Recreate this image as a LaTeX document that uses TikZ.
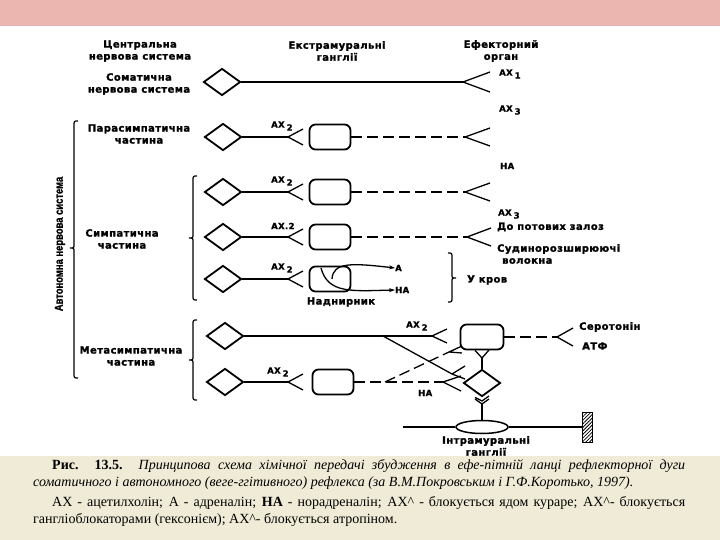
\documentclass[tikz,border=0pt]{standalone}
\usepackage{fontspec}
\usepackage{graphicx}
\setmainfont{Liberation Serif}
\newfontfamily\lab{DejaVu Sans Bold}[LetterSpace=4, FakeBold=1.5]
\newfontfamily\vlab{Liberation Sans Bold}[FakeBold=1.2]
\usetikzlibrary{shapes.geometric,patterns.meta,arrows.meta}
\definecolor{topband}{HTML}{EBB6B0}
\definecolor{bandline}{HTML}{DCB4B8}
\definecolor{capbg}{HTML}{EFEBD6}
\newcommand\AXs[1]{АХ\hspace{2pt}\raisebox{-3pt}{#1}}
\newcommand\fk[4]{\draw[conn] (#1) -- ++(#2,-#3) (#1) -- ++(#2,#4);}
\newcommand\brL[4]{\draw[line width=1.2pt] (#1+4,#2) .. controls (#1,#2) .. (#1,#2+5) -- (#1,#4-4) .. controls (#1,#4) .. (#1-4,#4) .. controls (#1,#4) .. (#1,#4+4) -- (#1,#3-5) .. controls (#1,#3) .. (#1+4,#3);}
\newcommand\brR[4]{\draw[line width=1.2pt] (#1-4,#2) .. controls (#1,#2) .. (#1,#2+5) -- (#1,#4-4) .. controls (#1,#4) .. (#1+4,#4) .. controls (#1,#4) .. (#1,#4+4) -- (#1,#3-5) .. controls (#1,#3) .. (#1-4,#3);}
\begin{document}
\begin{tikzpicture}[x=1pt,y=-1pt,
  conn/.style={line width=1.3pt},
  dconn/.style={line width=1.3pt, dash pattern=on 11pt off 5pt},
  dia/.style={draw, line width=1.8pt, shape=diamond, minimum width=37pt, minimum height=27pt, inner sep=0pt},
  gbox/.style={draw, line width=1.8pt, rounded corners=6pt, minimum width=41pt, minimum height=25pt, inner sep=0pt},
  lbl/.style={font=\lab\fontsize{10}{12}\selectfont, inner sep=0pt, align=center},
  sml/.style={font=\lab\fontsize{8.5}{10}\selectfont, inner sep=0pt, anchor=west},
  tip/.style={-{Stealth[length=6pt,width=4pt]}}
]
\useasboundingbox (0,0) rectangle (720,540);
\fill[white] (0,0) rectangle (720,540);
\fill[topband] (0,0) rectangle (720,25);
\draw[line width=0.8pt, bandline] (0,25.5) -- (720,25.5);
\fill[capbg] (0,456) rectangle (720,540);

% column headers and left labels
\node[lbl] (cns) at (140,51) {Центральна\\нервова система};
\node[lbl] (soma) at (139,84) {Соматична\\нервова система};
\node[lbl] (para) at (139,134) {Парасимпатична\\частина};
\node[lbl] (symp) at (122,239) {Симпатична\\частина};
\node[lbl] (meta) at (131,356) {Метасимпатична\\частина};
\node[lbl] (ext) at (337,51) {Екстрамуральні\\ганглії};
\node[lbl] (eff) at (501,51) {Ефекторний\\орган};
\node[rotate=90, inner sep=0pt, font=\vlab\fontsize{11.5}{11}\selectfont] (ans) at (60,244) {\scalebox{0.82}[1]{Автономна нервова система}};

% braces
\brL{74}{121}{378}{248}
\brL{193}{176}{300}{238}
\brL{193}{320}{400}{360}
\brR{452}{253}{302}{278}

% neurons
\node[dia] (d1) at (222,82) {};
\node[dia] (d2) at (223,137) {};
\node[dia] (d3) at (223,192) {};
\node[dia] (d4) at (223,237) {};
\node[dia] (d5) at (223,279) {};
\node[dia] (d6) at (225,336) {};
\node[dia] (d7) at (225,382) {};
\node[dia] (d8) at (482,383) {};
\node[gbox] (b2) at (330,137) {};
\node[gbox] (b3) at (330,192) {};
\node[gbox] (b4) at (330,237) {};
\node[gbox] (b5) at (330,279) {};
\node[gbox, minimum width=43pt] (b6) at (482,337) {};
\node[gbox] (b7) at (333,382) {};

% row 1
\coordinate (f1) at (463,82); \draw[conn] (d1) -- (f1); \fk{f1}{27}{10}{10}
\node[sml] (ax1) at (499,74) {\AXs{1}};
\node[sml] (ax3a) at (499,110) {\AXs{3}};

% row 2
\coordinate (f2) at (288,137); \draw[conn] (d2) -- (f2); \fk{f2}{15}{8}{8}
\node[sml] (l2) at (271,126) {\AXs{2}};
\coordinate (g2) at (465,137); \draw[dconn] (b2) -- (g2); \fk{g2}{25}{9}{9}
\node[sml] (na1) at (500,166) {НА};

% row 3
\coordinate (f3) at (288,192); \draw[conn] (d3) -- (f3); \fk{f3}{15}{8}{8}
\node[sml] (l3) at (271,181) {\AXs{2}};
\coordinate (g3) at (465,192); \draw[dconn] (b3) -- (g3); \fk{g3}{25}{9}{9}
\node[sml] (ax3b) at (498,214) {\AXs{3}};

% row 4
\coordinate (f4) at (288,237); \draw[conn] (d4) -- (f4); \fk{f4}{15}{8}{8}
\node[sml] (l4) at (271,226) {АХ.2};
\coordinate (g4) at (467,237); \draw[dconn] (b4) -- (g4); \fk{g4}{24}{9}{9}
\node[lbl, anchor=west] (pot) at (497,227) {До потових залоз};
\node[lbl, anchor=west, align=left] (sud) at (497,254) {Судинорозширюючі\\\hspace*{5pt}волокна};

% row 5
\coordinate (f5) at (288,279); \draw[conn] (d5) -- (f5); \fk{f5}{15}{8}{8}
\node[sml] (l5) at (271,268) {\AXs{2}};
\node[sml] (A) at (395,268) {А};
\node[sml] (na2) at (395,290) {НА};
\draw[conn, tip] (332,279) .. controls (333,262) and (352,263) .. (A.west);
\draw[conn, tip] (321,268) .. controls (328,294) and (352,291) .. (na2.west);
\node[lbl] (adr) at (341,302) {Наднирник};
\node[lbl, anchor=west] (blood) at (467,280) {У кров};

% row 6
\coordinate (f6) at (432,336); \draw[conn] (d6) -- (f6); \fk{f6}{15}{7}{7}
\node[sml] (l6) at (406,326) {\AXs{2}};
\coordinate (br6) at (383,336); \coordinate (f6b) at (452,374);
\draw[conn] (br6) -- (f6b); \fk{f6b}{13}{8}{5}
\coordinate (g6) at (557,337); \draw[dconn] (b6) -- (g6); \fk{g6}{16}{9}{9}
\node[lbl, anchor=west] (ser) at (579,327) {Серотонін};
\node[lbl, anchor=west] (atf) at (582,346) {АТФ};

% row 7
\coordinate (f7) at (288,382); \draw[conn] (d7) -- (f7); \fk{f7}{15}{8}{8}
\node[sml] (l7) at (267,372) {\AXs{2}};
\coordinate (g7) at (443,382); \draw[dconn] (b7) -- (g7); \fk{g7}{18}{6}{9}
\node[sml] (na3) at (418,393) {НА};
\coordinate (br7) at (385,382); \coordinate (g7b) at (449,352);
\draw[dconn] (br7) -- (g7b); \fk{g7b}{13}{6}{1}

% intramural chain
\coordinate (v1) at (482,358);
\draw[conn] (b6.south) ++(-7,0) -- (v1) -- ++(7,-8);
\draw[conn] (v1) -- (d8.north);
\coordinate (v2) at (482,401); \coordinate (v3) at (482,404);
\draw[conn] (d8.south) ++(-7,0) -- (v2) -- ++(7,-5);
\draw[conn] (v3) ++(-7,-5) -- (v3) -- ++(7,-5);
\node[draw, ellipse, line width=1.5pt, minimum width=52pt, minimum height=13pt, inner sep=0pt] (e) at (482,427) {};
\draw[conn] (v3) -- (e.north);
\coordinate (lin) at (403,427);
\node[draw, line width=0.8pt, minimum width=10pt, minimum height=30pt, inner sep=0pt, pattern={Lines[angle=45,distance=2.5pt,line width=0.8pt]}] (wall) at (587,427) {};
\draw[conn] (lin) -- (e.west);
\draw[conn] (e.east) -- (wall.west);
\node[lbl] (intra) at (486,446) {Інтрамуральні\\ганглії};

% caption
\node[anchor=north west, inner sep=0pt, text width=652pt, align=justify, font=\fontsize{14}{17}\selectfont] (cap) at (33,459) {%
\hspace*{19pt}\textbf{Рис. 13.5.} \textit{Принципова схема хімічної передачі збудження в ефе-пітній ланці рефлекторної дуги\linebreak соматичного і автономного (веге-ггітивного) рефлекса (за В.М.Покровським і Г.Ф.Коротько, 1997).}\par\vspace{3pt}
\hspace*{19pt}АХ - ацетилхолін; А - адреналін; \textbf{НА} - норадреналін; АХ\^{} - блокується ядом кураре; АХ\^{}- блокується\linebreak гангліоблокаторами (гексонієм); АХ\^{}- блокується атропіном.};
\end{tikzpicture}
\end{document}
